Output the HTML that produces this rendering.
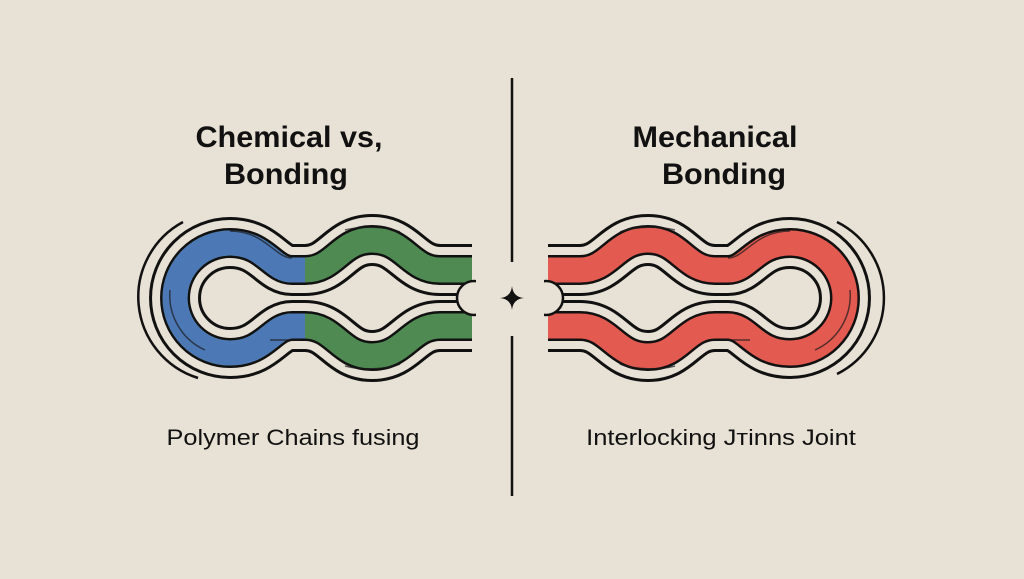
<!DOCTYPE html>
<html><head><meta charset="utf-8"><style>
html,body{margin:0;padding:0;background:#e8e1d5;}
body{width:1024px;height:574px;overflow:hidden;position:relative;font-family:"Liberation Sans",sans-serif;}
</style></head><body>
<svg width="1024" height="574" viewBox="0 0 1024 574" xmlns="http://www.w3.org/2000/svg">
<rect width="1024" height="574" fill="#e8e1d5"/>
<defs>
<path id="band" d="M472 270 L440 270 C410 270 405 240 372 240 C340 240 335 270 305 270 L292 270 C272 270 265 243 230 243 A55 55 0 0 0 230 353 C265 353 272 326 292 326 L305 326 C335 326 340 356 372 356 C405 356 410 326 440 326 L472 326"/>
<path id="blue" d="M305 270 L292 270 C272 270 265 243 230 243 A55 55 0 0 0 230 353 C265 353 272 326 292 326 L305 326"/>
<path id="hi" d="M292 258 C275 258 265 231 230 231 M170 290 A60 60 0 0 0 205 350 M345 230 C360 226 385 226 400 232 M440 284 L465 284 M345 366 C360 370 385 370 400 364 M270 340 L300 340"/>
<g id="fig">
<use href="#band" fill="none" stroke="#111" stroke-width="52"/>
<use href="#band" fill="none" stroke="#e8e1d5" stroke-width="46"/>
<use href="#band" fill="none" stroke="#111" stroke-width="30"/>
</g>
</defs>
<use href="#fig"/>
<use href="#band" fill="none" stroke="#4f8a52" stroke-width="25"/>
<use href="#blue" fill="none" stroke="#4c78b6" stroke-width="25"/>
<use href="#hi" fill="none" stroke="#1a1a1a" stroke-width="1.5" opacity="0.7"/>
<rect x="478" y="240" width="20" height="120" fill="#e8e1d5"/>
<circle cx="474" cy="298" r="17" fill="#e8e1d5" stroke="#111" stroke-width="2.5"/>
<rect x="476" y="270" width="20" height="60" fill="#e8e1d5"/>
<path d="M183 222 A85 85 0 0 0 198 378" fill="none" stroke="#111" stroke-width="2.5"/>
<g transform="translate(1020,0) scale(-1,1)">
<use href="#fig"/>
<use href="#band" fill="none" stroke="#e25a50" stroke-width="25"/>
<use href="#hi" fill="none" stroke="#1a1a1a" stroke-width="1.5" opacity="0.7"/>
<rect x="478" y="240" width="20" height="120" fill="#e8e1d5"/>
<circle cx="474" cy="298" r="17" fill="#e8e1d5" stroke="#111" stroke-width="2.5"/>
<rect x="476" y="270" width="20" height="60" fill="#e8e1d5"/>
<path d="M183 222 A85 85 0 0 0 183 374" fill="none" stroke="#111" stroke-width="2.5"/>
</g>
<line x1="512" y1="78" x2="512" y2="262" stroke="#111" stroke-width="2.5"/>
<line x1="512" y1="336" x2="512" y2="496" stroke="#111" stroke-width="2.5"/>
<path d="M512 286 Q513 297 524 298 Q513 299 512 310 Q511 299 500 298 Q511 297 512 286Z" fill="#111"/>
<g font-family="Liberation Sans, sans-serif" font-weight="bold" font-size="30" fill="#111" text-anchor="middle">
<text x="289" y="147" transform="translate(289,0) scale(1.02,1) translate(-289,0)">Chemical  vs,</text>
<text x="286" y="184" transform="translate(286,0) scale(1.02,1) translate(-286,0)">Bonding</text>
<text x="715" y="147" transform="translate(715,0) scale(1.02,1) translate(-715,0)">Mechanical</text>
<text x="724" y="184" transform="translate(724,0) scale(1.02,1) translate(-724,0)">Bonding</text>
</g>
<g font-family="Liberation Sans, sans-serif" font-size="22" fill="#111" text-anchor="middle">
<text x="293" y="445" transform="translate(293,0) scale(1.15,1) translate(-293,0)">Polymer Chains fusing</text>
<text x="721" y="445" transform="translate(721,0) scale(1.16,1) translate(-721,0)">Interlocking Jтinns Joint</text>
</g>
</svg>
</body></html>
